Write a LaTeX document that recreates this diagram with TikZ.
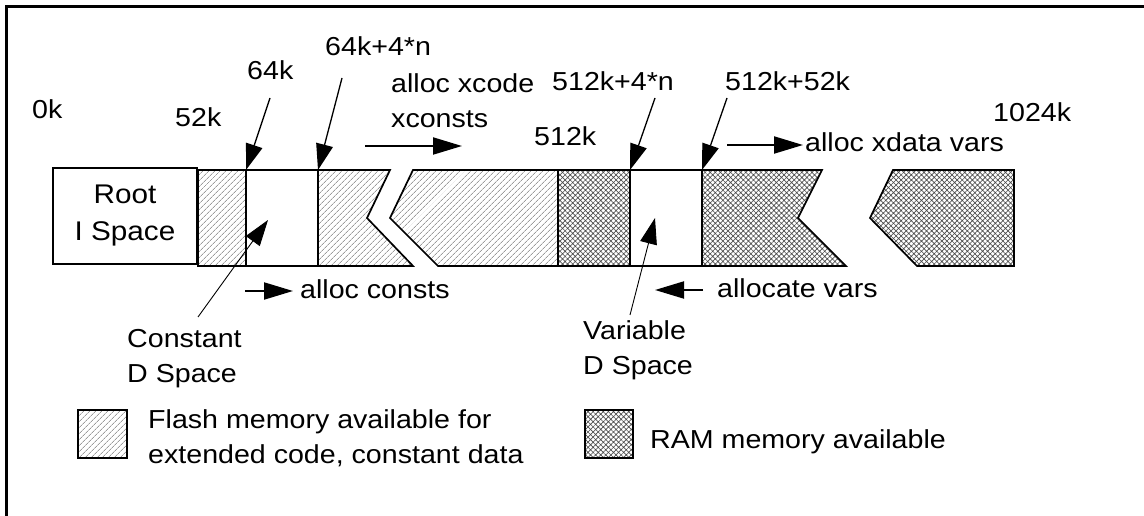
\documentclass[tikz,border=0pt]{standalone}
\usepackage{fontspec}
\setmainfont{Liberation Sans}[FakeStretch=1.1]
\usetikzlibrary{arrows.meta,patterns.meta}
\begin{document}
\begin{tikzpicture}[x=1pt,y=-1pt,
  lbl/.style={inner sep=0pt, anchor=base west, font=\fontsize{26}{35}\selectfont, align=left},
  seg/.style={draw=black, line width=1.7pt, line join=miter},
  flash/.style={seg, pattern={Lines[angle=45,distance=4pt,line width=0.55pt]}, pattern color=black!60},
  ram/.style={seg, pattern={Hatch[angle=45,distance=3.6pt,line width=0.65pt]}, pattern color=black!70},
  ptr/.style={line width=1.3pt, -{Triangle[length=26pt,width=17pt]}},
  hptr/.style={line width=2pt, -{Triangle[length=29pt,width=17pt]}},
  lead/.style={line width=0.9pt, -{Triangle[length=26pt,width=17pt]}},
]
\useasboundingbox (0,0) rectangle (1144,516);
% frame (top and left)
\draw[line width=3pt] (6.5,520) -- (6.5,6.5) -- (1150,6.5);

% memory bar
\node[seg, rectangle, minimum width=144pt, minimum height=96pt, inner sep=0pt,
      align=center, font=\fontsize{27}{37}\selectfont] (root) at (125,216) {Root\\I Space};
\draw[flash] (198,170) rectangle (246,266);
\draw[seg] (246,170) rectangle (318,266);
\draw[flash] (318,170) -- (390,170) -- (367,218) -- (413,266) -- (318,266) -- cycle;
\draw[flash] (413,170) -- (390,218) -- (438,266) -- (558,266) -- (558,170) -- cycle;
\draw[ram] (558,170) rectangle (630,266);
\draw[seg] (630,170) rectangle (702,266);
\draw[ram] (702,170) -- (822,170) -- (798,218) -- (846,266) -- (702,266) -- cycle;
\draw[ram] (893,170) -- (870,218) -- (917,266) -- (1014,266) -- (1014,170) -- cycle;

% labels (base anchor = baseline of the last line)
\node[lbl] (k0) at (32,119) {0k};
\node[lbl] (k52) at (175,127) {52k};
\node[lbl] (k64) at (247,80) {64k};
\node[lbl] (k64n) at (325,56) {64k+4*n};
\node[lbl] (xcode) at (391,128) {alloc xcode\\xconsts};
\node[lbl] (k512n) at (552,91) {512k+4*n};
\node[lbl] (k512) at (534,146) {512k};
\node[lbl] (k512b) at (725,91) {512k+52k};
\node[lbl] (k1024) at (993,122) {1024k};
\node[lbl] (xdata) at (805,152) {alloc xdata vars};
\node[lbl] (aconst) at (300,298) {alloc consts};
\node[lbl] (avars) at (717,297) {allocate vars};
\node[lbl] (cds) at (127,382) {Constant\\D Space};
\node[lbl] (vds) at (583,374) {Variable\\D Space};
\node[lbl] (lflash) at (148,463) {Flash memory available for\\extended code, constant data};
\node[lbl] (lram) at (650,448) {RAM memory available};

% legend boxes
\draw[flash, line width=2.4pt] (78,410) rectangle (127,458);
\draw[ram, line width=2.4pt] (585,410) rectangle (633,458);

% pointer coordinates
\coordinate (s64) at (270,98);   \coordinate (b64) at (246,170);
\coordinate (s64n) at (342,78);  \coordinate (b64n) at (318,170);
\coordinate (s512n) at (655,98); \coordinate (b512n) at (630,170);
\coordinate (s512b) at (727,98); \coordinate (b512b) at (702,170);
\coordinate (xc1) at (365,146);  \coordinate (xc2) at (462,146);
\coordinate (xd1) at (727,145);  \coordinate (xd2) at (803,145);
\coordinate (ac1) at (245,291);  \coordinate (ac2) at (293,291);
\coordinate (av1) at (703,290);  \coordinate (av2) at (655,290);
\coordinate (cl1) at (198,317);  \coordinate (cl2) at (268,220);
\coordinate (vl1) at (630,315);  \coordinate (vl2) at (655,218);

\draw[ptr] (s64) -- (b64);
\draw[ptr] (s64n) -- (b64n);
\draw[ptr] (s512n) -- (b512n);
\draw[ptr] (s512b) -- (b512b);
\draw[hptr] (xc1) -- (xc2);
\draw[hptr] (xd1) -- (xd2);
\draw[hptr] (ac1) -- (ac2);
\draw[hptr] (av1) -- (av2);
\draw[lead] (cl1) -- (cl2);
\draw[lead] (vl1) -- (vl2);
\end{tikzpicture}
\end{document}
